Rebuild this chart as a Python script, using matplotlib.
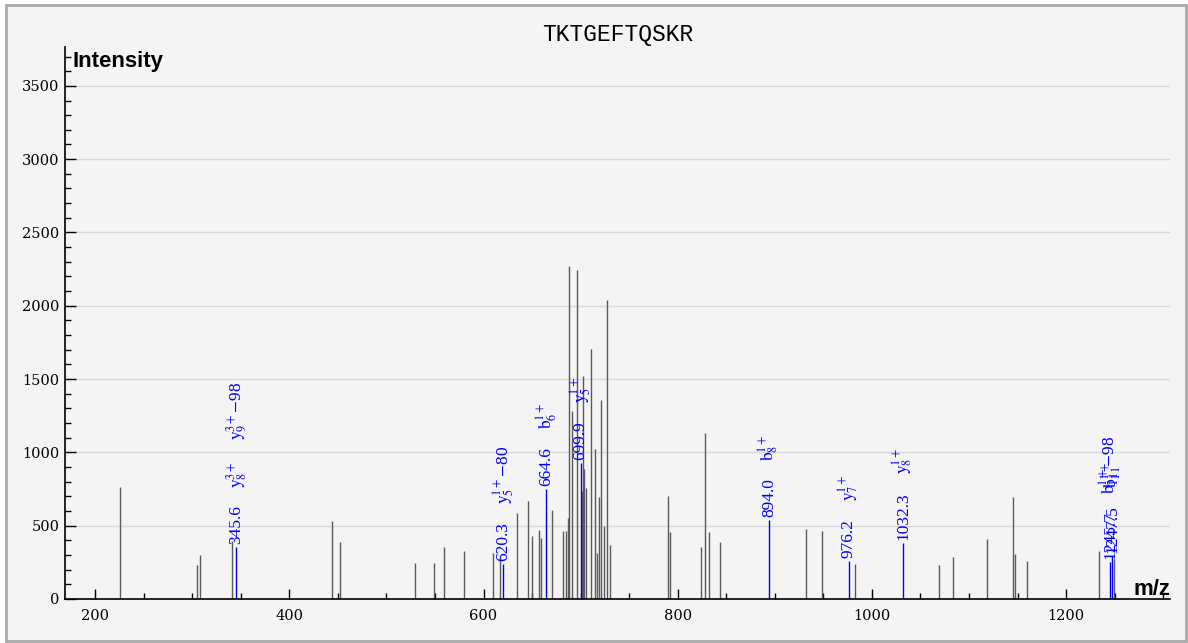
import matplotlib
matplotlib.use('Agg')
import matplotlib.pyplot as plt
from matplotlib.patches import Rectangle
from matplotlib.ticker import MultipleLocator

# unannotated peaks (m/z, intensity)
peak_mz = [226.0, 305.0, 308.0, 341.5, 443.5, 452.0, 529.5, 549.5, 559.5, 579.5,
           610.0, 617.5, 634.5, 646.0, 650.0, 657.0, 659.5, 671.0, 682.0, 685.0,
           687.0, 688.0, 691.0, 696.0, 701.4, 702.0, 703.6, 705.9, 711.0, 714.5,
           717.0, 719.0, 721.0, 724.0, 727.0, 730.0, 790.5, 792.5, 824.5, 828.5,
           832.0, 844.0, 932.5, 948.5, 983.0, 1069.5, 1083.5, 1118.5, 1145.5, 1147.5,
           1159.5, 1234.0, 1249.5]
peak_int = [765, 231, 301, 393, 530, 386, 247, 247, 356, 324,
            317, 290, 587, 671, 431, 468, 415, 610, 466, 461,
            553, 2272, 1283, 2242, 735, 1518, 884, 758, 1705, 1021,
            317, 696, 1356, 495, 2041, 370, 705, 454, 354, 1135,
            454, 388, 479, 463, 242, 231, 288, 406, 696, 306,
            258, 324, 270]

# annotated (matched) peaks
ion_mz = [345.6, 620.3, 664.6, 699.9, 894.0, 976.2, 1032.3, 1245.6, 1247.6]
ion_int = [352, 240, 753, 929, 536, 260, 383, 249, 290]
ion_text = ['345.6', '620.3', '664.6', '699.9', '894.0', '976.2', '1032.3', '1245.7', '1247.5']
ion_names = [[r'$\mathrm{y}_8^{3+}$', r'$\mathrm{y}_9^{3+}$$-$98'],
             [r'$\mathrm{y}_5^{1+}$$-$80'],
             [r'$\mathrm{b}_6^{1+}$'],
             [r'$\mathrm{y}_5^{1+}$'],
             [r'$\mathrm{b}_8^{1+}$'],
             [r'$\mathrm{y}_7^{1+}$'],
             [r'$\mathrm{y}_8^{1+}$'],
             [r'$\mathrm{b}_{11}^{1+}$$-$98'],
             [r'$\mathrm{b}_{11}^{1+}$']]

plt.rcParams['mathtext.fontset'] = 'stix'

W, H = 1188, 643
fig = plt.figure(figsize=(W / 100, H / 100), dpi=100, facecolor='white')
fig.patches.append(Rectangle((6 / W, 2 / H), 1180 / W, 636.5 / H, transform=fig.transFigure,
                             facecolor='#f4f4f4', edgecolor='#aaaaaa', lw=2, zorder=-5))

ax = fig.add_axes([65 / W, 44 / H, 1105 / W, 552 / H])
ax.set_facecolor('none')
ax.set_xlim(169, 1307)
ax.set_ylim(0, 3765)

ax.vlines(peak_mz, 0, peak_int, color='#5a5a5a', lw=1)

ax.xaxis.set_major_locator(MultipleLocator(200))
ax.xaxis.set_minor_locator(MultipleLocator(50))
ax.yaxis.set_major_locator(MultipleLocator(500))
ax.yaxis.set_minor_locator(MultipleLocator(100))
ax.yaxis.grid(True, color='#d9d9d9', lw=1)
ax.set_axisbelow(True)
for s in ['top', 'right']:
    ax.spines[s].set_visible(False)
for s in ['left', 'bottom']:
    ax.spines[s].set_linewidth(1.2)
ax.tick_params(axis='x', which='major', direction='in', length=7.5, width=1, pad=7)
ax.tick_params(axis='x', which='minor', direction='in', length=4.5, width=1)
ax.tick_params(axis='y', which='major', direction='in', length=8, width=1, pad=4)
ax.tick_params(axis='y', which='minor', direction='in', length=4.5, width=1)
for lab in ax.get_xticklabels() + ax.get_yticklabels():
    lab.set_family('DejaVu Serif')
    lab.set_fontsize(10.5)

fig.text(617.7 / W, 1 - 41 / H, 'TKTGEFTQSKR', family='Liberation Mono', size=16.5,
         ha='center', va='baseline')
fig.text(72 / W, 1 - 67 / H, 'Intensity', family='Liberation Sans', weight='bold',
         size=16, ha='left', va='baseline')
fig.text(1170 / W, 1 - 595 / H, 'm/z', family='Liberation Sans', weight='bold',
         size=16, ha='right', va='baseline')

ax.vlines(ion_mz, 0, ion_int, color='blue', lw=1)

fig.canvas.draw()
renderer = fig.canvas.get_renderer()
style = dict(textcoords='offset pixels', rotation=90, ha='center', va='bottom',
             color='blue', family='Liberation Serif', size=12.5)
for mz, inten, lab, names in zip(ion_mz, ion_int, ion_text, ion_names):
    t = ax.annotate(lab, (mz, inten), xytext=(0, 3), **style)
    off = 3 + t.get_window_extent(renderer).height + 18
    for name in names:
        t2 = ax.annotate(name, (mz, inten), xytext=(0, off), **style)
        off += t2.get_window_extent(renderer).height + 21

fig.savefig('out.png', dpi=100, facecolor=fig.get_facecolor())
